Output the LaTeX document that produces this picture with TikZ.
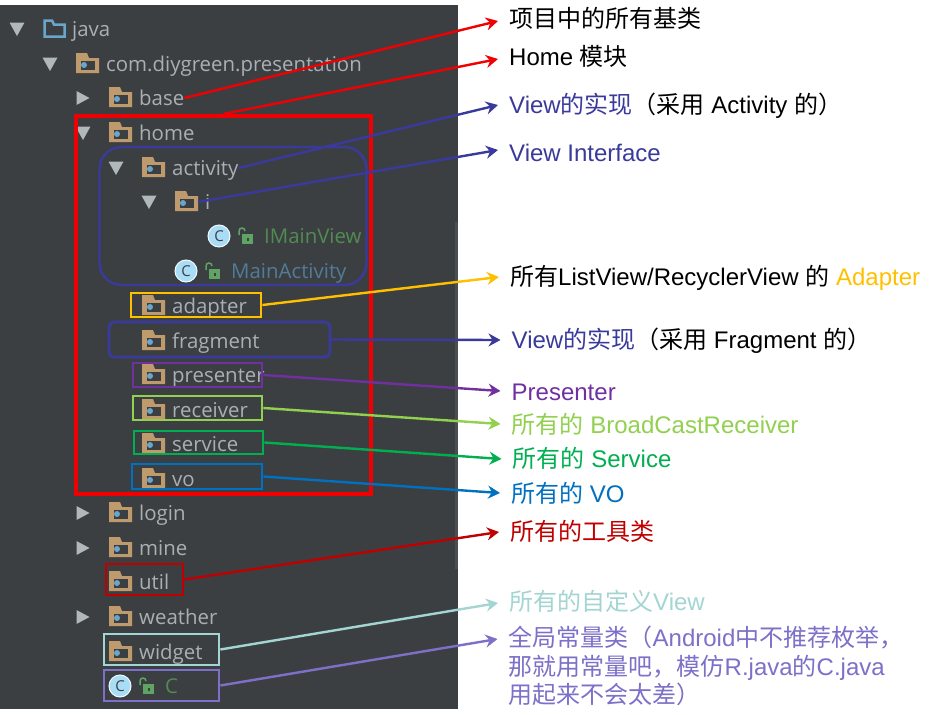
\documentclass[tikz,border=0pt]{standalone}
\usepackage{xcolor}
\usepackage{fontspec}
\setmainfont{Liberation Sans}
\newfontfamily\cjk{Noto Sans CJK SC}
\newfontfamily\treefont{Open Sans}
\usetikzlibrary{arrows.meta,positioning}
\definecolor{panel}{HTML}{3C3F41}
\definecolor{treegray}{HTML}{A9B0B5}
\definecolor{foldertan}{HTML}{BE9A6C}
\definecolor{pkgblue}{HTML}{6AA5CC}
\definecolor{lockgreen}{HTML}{5FA463}
\definecolor{clsblue}{HTML}{A9DDF6}
\definecolor{redx}{HTML}{F00000}
\definecolor{navyx}{HTML}{3A3A9C}
\definecolor{yellowx}{HTML}{FFC000}
\definecolor{purplex}{HTML}{7030A0}
\definecolor{limex}{HTML}{92D050}
\definecolor{greenx}{HTML}{00B050}
\definecolor{bluex}{HTML}{0070C0}
\definecolor{darkredx}{HTML}{C00000}
\definecolor{tealx}{HTML}{A3D5D3}
\definecolor{violetx}{HTML}{7C70C8}
\newcommand{\zh}[1]{{\cjk #1}}
\tikzset{
  ar/.style={-{Stealth[length=12pt,width=13pt,inset=4pt]},line width=2.4pt},
  treetext/.style={anchor=west,inner sep=0pt,text=treegray,text height=16pt,text depth=2pt,font=\treefont\fontsize{20.4}{24}\selectfont},
  tagbox/.style={draw,line width=2.8pt,inner sep=0pt},
  lbl/.style={anchor=west,inner xsep=11pt,inner ysep=0pt,text height=18pt,text depth=2pt,font=\fontsize{24}{29}\selectfont}
}
\newcommand{\tridown}[2]{\fill[treegray!90] (#1-7.5,#2-6.5)--(#1+7.5,#2-6.5)--(#1,#2+7)--cycle;}
\newcommand{\triright}[2]{\fill[treegray!90] (#1-6.5,#2-7)--(#1-6.5,#2+7)--(#1+6.5,#2)--cycle;}
\newcommand{\pkgrow}[4]{%
  \fill[foldertan] (#2,#3+9)--(#2,#3-11)--(#2+11,#3-11)--(#2+13,#3-6)--(#2+23,#3-6)--(#2+23,#3+9)--cycle;
  \fill[panel] (#2+4.5,#3-3)--(#2+18.5,#3-3)--(#2+18.5,#3+6)--(#2+4.5,#3+6)--cycle;
  \fill[pkgblue] (#2+8,#3+1) circle (3pt);
  \node[treetext] (#1) at (#2+30,#3) {#4};}
\newcommand{\clsrow}[6]{%
  \node[circle,fill=clsblue,draw=white!85!clsblue,line width=1pt,minimum size=22pt,inner sep=0pt,text=panel,font=\treefont\fontsize{15}{15}\selectfont] (#1ic) at (#2,#3) {C};
  \draw[lockgreen,line width=1.5pt] (#4-6,#3-1)--(#4-6,#3-5) arc (180:0:3pt);
  \fill[lockgreen] (#4-3,#3-2) rectangle (#4+8,#3+8);
  \fill[panel] (#4+1.5,#3+1.5) rectangle (#4+3.5,#3+5);
  \node[treetext,text=#6] (#1) at (#4+19,#3) {#5};}

\begin{document}
\begin{tikzpicture}[x=1pt,y=-1pt]
\useasboundingbox (0,0) rectangle (930,715);
\fill[white] (0,0) rectangle (930,715);
\fill[panel] (0,5) rectangle (458,709);
\fill[panel!92!white] (455,222) rectangle (458,569);
% tree
\draw[pkgblue,line width=2.5pt] (44.5,36.5)--(44.5,20.5)--(52,20.5)--(54,24.5)--(64.5,24.5)--(64.5,36.5)--cycle;
\node[treetext] (java) at (72,29) {java};
\foreach \nm/\ix/\ry/\txt in {com/76/64/com.diygreen.presentation,base/109/98/base,home/109/133/home,
  activity/142/168/activity,ifc/175/202/i,adapter/142/306/adapter,fragment/142/341/fragment,
  presenter/142/375/presenter,receiver/142/410/receiver,service/142/444/service,vo/142/479/vo,
  login/109/513/login,mine/109/548/mine,util/109/582/util,weather/109/617/weather,widget/109/652/widget}{
  \pkgrow{\nm}{\ix}{\ry}{\txt}
}
\foreach \tx/\ty in {17/29,50/64,83/133,116/168,149/202}{\tridown{\tx}{\ty}}
\foreach \tx/\ty in {83/98,83/513,83/548,83/617}{\triright{\tx}{\ty}}
\clsrow{imainview}{219}{236}{245}{IMainView}{lockgreen!85!black}
\clsrow{mainactivity}{186}{271}{212}{MainActivity}{pkgblue!75!black}
\clsrow{constc}{120}{686}{146}{C}{lockgreen!85!black}
% boxes
\node[tagbox,draw=redx,line width=4pt,minimum width=294.5pt,minimum height=378pt] (homebox) at (223.5,305) {};
\node[tagbox,draw=navyx,line width=2.4pt,rounded corners=22pt,minimum width=267pt,minimum height=138pt] (mvpbox) at (233,216) {};
\node[tagbox,draw=yellowx,minimum width=130pt,minimum height=24pt] (adapterbox) at (196,305) {};
\node[tagbox,draw=navyx,rounded corners=5pt,minimum width=221pt,minimum height=35pt] (fragmentbox) at (219.5,339.5) {};
\node[tagbox,draw=purplex,minimum width=129pt,minimum height=24pt] (presenterbox) at (197.5,375) {};
\node[tagbox,draw=limex,minimum width=129pt,minimum height=24pt] (receiverbox) at (197.5,408) {};
\node[tagbox,draw=greenx,minimum width=129pt,minimum height=23pt] (servicebox) at (198.5,442.5) {};
\node[tagbox,draw=bluex,minimum width=130pt,minimum height=25pt] (vobox) at (197,476.5) {};
\node[tagbox,draw=darkredx,minimum width=77pt,minimum height=31pt] (utilbox) at (144.5,579.5) {};
\node[tagbox,draw=tealx,minimum width=115pt,minimum height=31pt] (widgetbox) at (161.5,649.5) {};
\node[tagbox,draw=violetx,minimum width=115pt,minimum height=31pt] (constbox) at (161.5,685.5) {};
% labels
\node[lbl,text height=14pt] (lblbase) at (498,21) {\zh{项目中的所有基类}};
\node[lbl,text height=14pt] (lblhome) at (498,59) {Home \zh{模块}};
\node[lbl,text=navyx] (lblact) at (498,105) {View\zh{的实现}\textcolor{black}{\zh{（采用} Activity \zh{的）}}};
\node[lbl,text=navyx,text height=24pt] (lblifc) at (498,150) {View Interface};
\node[lbl] (lbladapter) at (499,277) {\zh{所有}ListView/RecyclerView \zh{的} \textcolor{yellowx}{Adapter}};
\node[lbl,text=navyx] (lblfrag) at (500.5,340) {View\zh{的实现}\textcolor{black}{\zh{（采用} Fragment \zh{的）}}};
\node[lbl,text=purplex,text height=20pt] (lblpres) at (500.5,391) {Presenter};
\node[lbl,text=limex,text height=20pt] (lblrecv) at (500.5,424) {\zh{所有的} BroadCastReceiver};
\node[lbl,text=greenx] (lblserv) at (501.5,459) {\zh{所有的} Service};
\node[lbl,text=bluex,text height=20pt] (lblvo) at (500,493) {\zh{所有的} VO};
\node[lbl,text=darkredx] (lblutil) at (499,532) {\zh{所有的工具类}};
\node[lbl,text=tealx,text height=16pt] (lblwidget) at (498,603) {\zh{所有的自定义}View};
\node[lbl,text=violetx,text height=16pt] (lblconst) at (497.5,639) {\zh{全局常量类（}Android\zh{中不推荐枚举，}};
\node[lbl,text=violetx,text height=16pt] (lblconstb) at (497.5,668) {\zh{那就用常量吧，模仿}R.java\zh{的}C.java};
\node[lbl,text=violetx,text height=16pt] (lblconstc) at (497.5,696) {\zh{用起来不会太差）}};
% connectors
\draw[ar,redx] (base.east)--(lblbase.west);
\draw[ar,redx] (homebox.north)--(lblhome.west);
\draw[ar,navyx] (activity.east)--(lblact.west);
\draw[ar,navyx] ([xshift=-7pt]ifc.west)--(lblifc.west);
\draw[ar,yellowx] (adapterbox.east)--(lbladapter.west);
\draw[ar,navyx] (fragmentbox.east)--(lblfrag.west);
\draw[ar,purplex] (presenterbox.east)--(lblpres.west);
\draw[ar,limex] (receiverbox.east)--(lblrecv.west);
\draw[ar,greenx] (servicebox.east)--(lblserv.west);
\draw[ar,bluex] (vobox.east)--(lblvo.west);
\draw[ar,darkredx] (utilbox.east)--(lblutil.west);
\draw[ar,tealx] (widgetbox.east)--(lblwidget.west);
\draw[ar,violetx] (constbox.east)--(lblconst.west);
\end{tikzpicture}
\end{document}
